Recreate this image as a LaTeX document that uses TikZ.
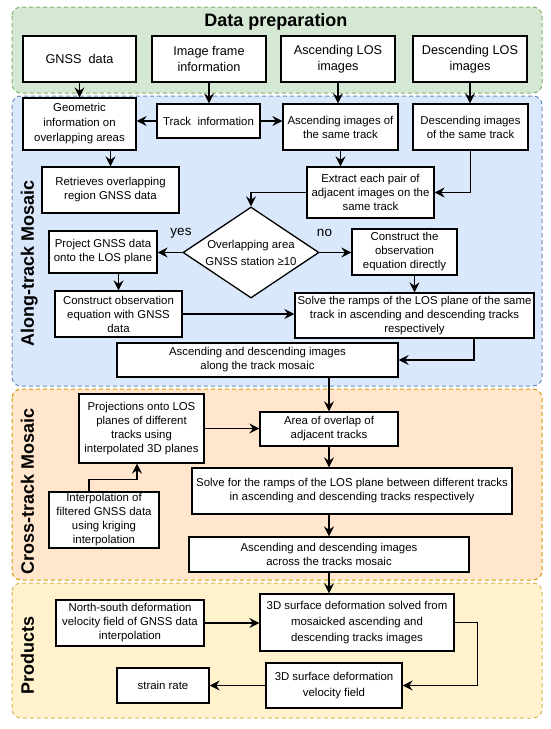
\documentclass[tikz,border=0pt]{standalone}
\usepackage{fontspec}
\setmainfont{Liberation Sans}
\usetikzlibrary{shapes.geometric,arrows.meta,calc}
\definecolor{gfill}{HTML}{D5E8D4}
\definecolor{gline}{HTML}{82B366}
\definecolor{bfill}{HTML}{DAE8FC}
\definecolor{bline}{HTML}{6C8EBF}
\definecolor{ofill}{HTML}{FFE6CC}
\definecolor{oline}{HTML}{D79B00}
\definecolor{yfill}{HTML}{FFF2CC}
\definecolor{yline}{HTML}{D6B656}
\begin{document}
\begin{tikzpicture}[x=1pt,y=-1pt,
  panel/.style={dash pattern=on 4pt off 3pt, line width=1pt, rounded corners=9pt},
  box/.style={draw, fill=white, line width=1.3pt, align=center, inner sep=1pt,
    font=\fontsize{11.4}{14}\selectfont},
  topbox/.style={box, font=\fontsize{12.7}{16}\selectfont, minimum width=114pt, minimum height=46pt},
  side/.style={rotate=90, anchor=base, font=\fontsize{18}{20}\selectfont\bfseries},
  lbl/.style={font=\fontsize{13.5}{15}\selectfont},
  arr/.style={-{Stealth[length=10pt,width=10pt,inset=3.5pt]}, line width=1.2pt},
  ln/.style={line width=1.2pt}]
\useasboundingbox (0,0) rectangle (550,729);
% panels
\draw[panel, fill=gfill, draw=gline] (12,7) rectangle (542,93);
\draw[panel, fill=bfill, draw=bline] (12,96) rectangle (542,386);
\draw[panel, fill=ofill, draw=oline] (12,389) rectangle (542,580);
\draw[panel, fill=yfill, draw=yline] (12,583) rectangle (542,718);
% titles
\node[font=\fontsize{18}{20}\selectfont\bfseries] (title) at (276,22) {Data preparation};
\node[side] (s1) at (34,263) {Along-track Mosaic};
\node[side] (s2) at (34,491) {Cross-track Mosaic};
\node[side] (s3) at (34,655) {Products};
% top row
\node[topbox, minimum width=113pt] (gnss) at (79.5,59) {GNSS\ \ data};
\node[topbox] (frame) at (209,59) {Image frame\\information};
\node[topbox] (ascLOS) at (338,59) {Ascending LOS\\images};
\node[topbox] (descLOS) at (470,59) {Descending LOS\\images};
% along-track
\node[box, minimum width=113pt, minimum height=52pt, font=\fontsize{11.4}{15}\selectfont] (geo) at (79.5,124) {Geometric\\information on\\overlapping areas};
\node[box, minimum width=103pt, minimum height=34pt] (track) at (208.5,121) {Track\ \ information};
\node[box, minimum width=115pt, minimum height=46pt] (ascSame) at (340.5,127) {Ascending images of\\the same track};
\node[box, minimum width=115pt, minimum height=46pt] (descSame) at (470.5,127) {Descending images\\of the same track};
\node[box, minimum width=137pt, minimum height=46pt] (retr) at (110.5,190) {Retrieves overlapping\\region GNSS data};
\node[box, minimum width=127pt, minimum height=51pt] (extract) at (370.5,192.5) {Extract each pair of\\adjacent images on the\\same track};
\node[draw, fill=white, line width=1.3pt, diamond, inner sep=0pt,
  minimum width=136pt, minimum height=91pt] (dia) at (251,252.5) {};
\node[align=center, inner sep=0pt, font=\fontsize{11.4}{17}\selectfont] (diatext) at (dia.center) {Overlapping area\\GNSS station ≥10};
\node[box, minimum width=108pt, minimum height=42pt] (proj) at (103,252) {Project GNSS data\\onto the LOS plane};
\node[box, minimum width=105pt, minimum height=46pt] (cdir) at (404.5,252) {Construct the\\observation\\equation directly};
\node[box, minimum width=127pt, minimum height=46pt] (cgnss) at (118.5,314) {Construct observation\\equation with GNSS\\data};
\node[box, minimum width=239pt, minimum height=45pt] (solve) at (414.5,315.5) {Solve the ramps of the LOS plane of the same\\track in ascending and descending tracks\\respectively};
\node[box, minimum width=281pt, minimum height=34pt] (along) at (257.5,360) {Ascending and descending images\\along the track mosaic};
\node[lbl] (yes) at (181,233) {yes};
\node[lbl] (no) at (324.5,233) {no};
% cross-track
\node[box, minimum width=138pt, minimum height=34pt] (area) at (329,429) {Area of overlap of\\adjacent tracks};
\node[box, minimum width=125pt, minimum height=69pt] (projl) at (141.5,428.5) {Projections onto LOS\\planes of different\\tracks using\\interpolated 3D planes};
\node[box, minimum width=110pt, minimum height=56pt] (interp) at (104,520) {Interpolation of\\filtered GNSS data\\using kriging\\interpolation};
\node[box, minimum width=320pt, minimum height=46pt] (solvex) at (352,491) {Solve for the ramps of the LOS plane between different tracks\\in ascending and descending tracks respectively};
\node[box, minimum width=280pt, minimum height=35pt] (across) at (329,554.5) {Ascending and descending images\\across the tracks mosaic};
% products
\node[box, minimum width=148pt, minimum height=46pt] (ns) at (130,623) {North-south deformation\\velocity field of GNSS data\\interpolation};
\node[box, minimum width=194pt, minimum height=57pt, font=\fontsize{11.4}{16}\selectfont] (surf) at (357,622.5) {3D surface deformation solved from\\mosaicked ascending and\\descending tracks images};
\node[box, minimum width=136pt, minimum height=45pt, font=\fontsize{11.4}{16}\selectfont] (vel) at (334,685.5) {3D surface deformation\\velocity field};
\node[box, minimum width=92pt, minimum height=35pt] (strain) at (163,685.5) {strain rate};
% connectors
\draw[arr] (gnss.south) -- (geo.north);
\draw[arr] (frame.south) -- (frame.south |- track.north);
\draw[arr] (ascLOS.south) -- (ascLOS.south |- ascSame.north);
\draw[arr] (descLOS.south) -- (descLOS.south |- descSame.north);
\draw[arr] (track.west) -- (track.west -| geo.east);
\draw[arr] (track.east) -- (track.east -| ascSame.west);
\draw[arr] (retr.north |- geo.south) -- (retr.north);
\draw[arr] (ascSame.south) -- (ascSame.south |- extract.north);
\draw[arr] (descSame.south) |- (extract.east);
\draw[arr] (extract.west) -| (dia.north);
\draw[arr] (dia.west) -- (dia.west -| proj.east);
\draw[arr] (dia.east) -- (dia.east -| cdir.west);
\draw[arr] (proj.south -| cgnss.north) -- (cgnss.north);
\draw[arr] (cgnss.east) -- (cgnss.east -| solve.west);
\draw[arr] (cdir.south -| solve.north) -- (solve.north);
\draw[arr] ($(solve.south)+(59.5,0)$) |- (along.east);
\draw[arr] (along.south -| area.north) -- (area.north);
\draw[arr] (projl.east) -- (projl.east -| area.west);
\draw[arr] ($(interp.north)+(-15,0)$) -- ++(0,-12) -| ($(projl.south)+(-4.5,0)$);
\draw[arr] (area.south) -- (area.south |- solvex.north);
\draw[arr] (area.south |- solvex.south) -- (across.north);
\draw[arr] (across.south) -- (across.south |- surf.north);
\draw[arr] (ns.east) -- (ns.east -| surf.west);
\draw[arr] (surf.east) -- ++(23,0) |- (vel.east);
\draw[arr] (vel.west) -- (strain.east);
\end{tikzpicture}
\end{document}
